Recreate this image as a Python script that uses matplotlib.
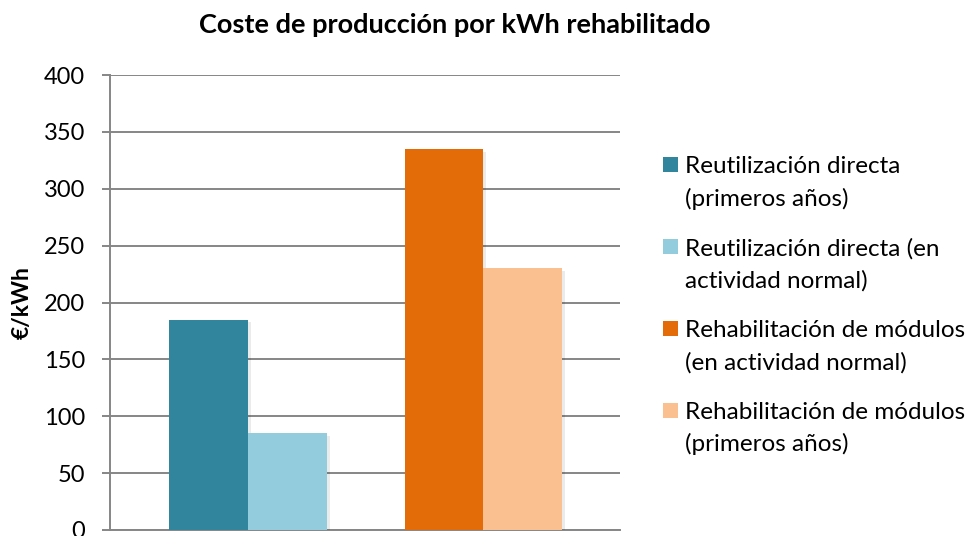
import matplotlib
matplotlib.use("Agg")
import matplotlib.pyplot as plt
from matplotlib.patches import Rectangle
import matplotlib.patheffects as pe

plt.rcParams['font.family'] = ['Lato', 'DejaVu Sans']

title = "Coste de producción por kWh rehabilitado"
ylabel = "€/kWh"
series_labels = [
    "Reutilización directa\n(primeros años)",
    "Reutilización directa (en\nactividad normal)",
    "Rehabilitación de módulos\n(en actividad normal)",
    "Rehabilitación de módulos\n(primeros años)",
]
series_values = [185, 85, 335, 230]
series_group = [0, 0, 1, 1]
series_offset = [-0.5, 0.5, -0.5, 0.5]
colors = ["#31859C", "#93CDDD", "#E36C09", "#FAC090"]
yticks = [0, 50, 100, 150, 200, 250, 300, 350, 400]

W, H = 974, 536
fig = plt.figure(figsize=(W/100, H/100), dpi=100)
ax = fig.add_axes([110/W, 1-530/H, 510/W, (530-75)/H])

w = 0.335
grid_c = "#868686"
for v, g, o, c in zip(series_values, series_group, series_offset, colors):
    ax.bar(g + o*w, v, width=w, color=c, zorder=3,
           path_effects=[pe.SimplePatchShadow(offset=(2, -2), shadow_rgbFace='#000000', alpha=0.08), pe.Normal()])

ax.set_xlim(-0.586, 1.58)
ax.set_ylim(0, 400)
ax.set_yticks(yticks)
ax.set_yticklabels([str(t) for t in yticks], fontsize=17)
ax.set_xticks([])
ax.grid(axis='y', color=grid_c, linewidth=1.4, zorder=0)
ax.set_axisbelow(True)
for s in ['top', 'right']:
    ax.spines[s].set_visible(False)
for s in ['left', 'bottom']:
    ax.spines[s].set_color(grid_c)
    ax.spines[s].set_linewidth(1.4)
ax.tick_params(axis='y', length=6, width=1.4, color=grid_c, pad=12, labelcolor='black')

ax.set_ylabel(ylabel, fontsize=16.5, fontweight='bold', labelpad=8)
fig.text(455/W, 1-25/H, title, fontsize=19.5, fontweight='bold', ha='center', va='center')

# legend drawn manually
y0, step, lstep = 165, 81.8, 32
for i, (lab, c) in enumerate(zip(series_labels, colors)):
    yc = y0 + i*step
    fig.patches.append(Rectangle((663/W, 1-(yc+7.5)/H), 15/W, 15/H, transform=fig.transFigure,
                                 facecolor=c, edgecolor='none'))
    for j, line in enumerate(lab.split("\n")):
        fig.text(685/W, 1-(yc + j*lstep)/H, line, fontsize=17.5, ha='left', va='center_baseline')

fig.savefig("out.png", dpi=100)
